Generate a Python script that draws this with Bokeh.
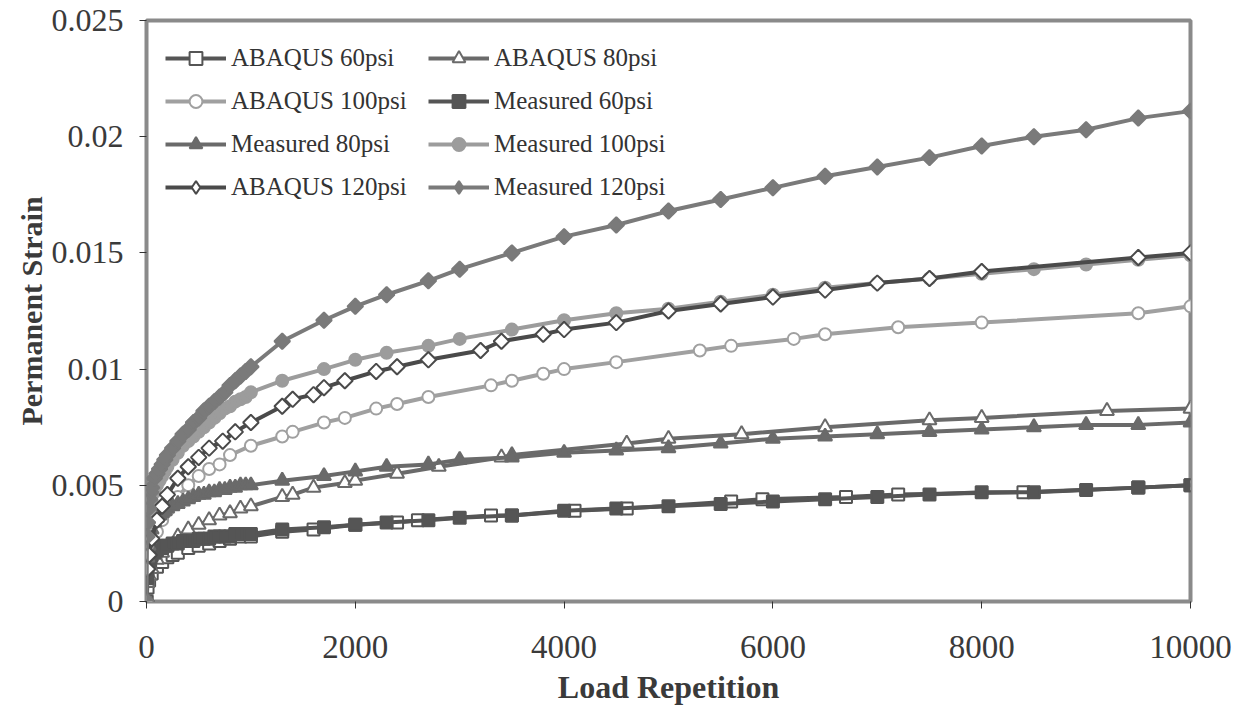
from bokeh.plotting import figure
from bokeh.models import Range1d, FixedTicker, Legend, LegendItem
from bokeh.embed import file_html
from bokeh.resources import INLINE

# ---------------- data ----------------
x_ticks = [0, 2000, 4000, 6000, 8000, 10000]
x_tick_labels = ["0", "2000", "4000", "6000", "8000", "10000"]
y_ticks = [0, 0.005, 0.01, 0.015, 0.02, 0.025]
y_tick_labels = ["0", "0.005", "0.01", "0.015", "0.02", "0.025"]

# measured series share the load repetitions
x_meas = [0, 5, 10, 20, 30, 40, 50, 75, 100, 125, 150, 175, 200, 250, 300, 350,
          400, 450, 500, 550, 600, 650, 700, 750, 800, 850, 900, 950, 1000,
          1300, 1700, 2000, 2300, 2700, 3000, 3500, 4000, 4500, 5000, 5500,
          6000, 6500, 7000, 7500, 8000, 8500, 9000, 9500, 10000]

meas_60 = [0, 0.0010, 0.0013, 0.0016, 0.0018, 0.0019, 0.0020, 0.0021, 0.0022,
           0.0023, 0.0023, 0.0024, 0.0024, 0.0025, 0.0025, 0.0026, 0.0026,
           0.0026, 0.0027, 0.0027, 0.0027, 0.0028, 0.0028, 0.0028, 0.0028,
           0.0029, 0.0029, 0.0029, 0.0029, 0.0031, 0.0032, 0.0033, 0.0034,
           0.0035, 0.0036, 0.0037, 0.0039, 0.0040, 0.0041, 0.0042, 0.0043,
           0.0044, 0.0045, 0.0046, 0.0047, 0.0047, 0.0048, 0.0049, 0.0050]

meas_80 = [0, 0.0015, 0.0019, 0.0024, 0.0027, 0.0029, 0.0031, 0.0034, 0.0036,
           0.0037, 0.0038, 0.0039, 0.0040, 0.0041, 0.0042, 0.0043, 0.0044,
           0.0045, 0.0046, 0.0046, 0.0047, 0.0047, 0.0048, 0.0048, 0.0049,
           0.0049, 0.0050, 0.0050, 0.0050, 0.0052, 0.0054, 0.0056, 0.0058,
           0.0059, 0.0061, 0.0062, 0.0064, 0.0065, 0.0066, 0.0068, 0.0070,
           0.0071, 0.0072, 0.0073, 0.0074, 0.0075, 0.0076, 0.0076, 0.0077]

meas_100 = [0, 0.0024, 0.0029, 0.0034, 0.0038, 0.0041, 0.0043, 0.0047, 0.0050,
            0.0052, 0.0054, 0.0056, 0.0058, 0.0061, 0.0064, 0.0067, 0.0069,
            0.0071, 0.0073, 0.0075, 0.0077, 0.0079, 0.0081, 0.0083, 0.0084,
            0.0086, 0.0087, 0.0088, 0.0090, 0.0095, 0.0100, 0.0104, 0.0107,
            0.0110, 0.0113, 0.0117, 0.0121, 0.0124, 0.0126, 0.0129, 0.0132,
            0.0135, 0.0137, 0.0139, 0.0141, 0.0143, 0.0145, 0.0147, 0.0149]

meas_120 = [0, 0.0028, 0.0034, 0.0040, 0.0044, 0.0047, 0.0049, 0.0053, 0.0055,
            0.0057, 0.0059, 0.0061, 0.0063, 0.0066, 0.0069, 0.0072, 0.0074,
            0.0077, 0.0079, 0.0082, 0.0084, 0.0086, 0.0088, 0.0090, 0.0093,
            0.0095, 0.0097, 0.0099, 0.0101, 0.0112, 0.0121, 0.0127, 0.0132,
            0.0138, 0.0143, 0.0150, 0.0157, 0.0162, 0.0168, 0.0173, 0.0178,
            0.0183, 0.0187, 0.0191, 0.0196, 0.0200, 0.0203, 0.0208, 0.0211]

x_abq_60 = [0, 10, 25, 50, 100, 150, 200, 250, 300, 400, 500, 600, 700, 800,
            900, 1000, 1300, 1600, 2000, 2400, 2600, 3300, 3500, 4100, 4600,
            5600, 5900, 6700, 7200, 8400, 9500, 10000]
abq_60 = [0, 0.0006, 0.0009, 0.0012, 0.0015, 0.0017, 0.0019, 0.0020, 0.0021,
          0.0023, 0.0024, 0.0025, 0.0026, 0.0027, 0.0028, 0.0028, 0.0030,
          0.0031, 0.0033, 0.0034, 0.0035, 0.0037, 0.0037, 0.0039, 0.0040,
          0.0043, 0.0044, 0.0045, 0.0046, 0.0047, 0.0049, 0.0050]

x_abq_80 = [0, 10, 25, 50, 100, 150, 200, 300, 400, 500, 600, 700, 800, 900,
            1000, 1300, 1400, 1600, 1900, 2000, 2400, 2800, 3400, 3500, 4600,
            5000, 5700, 6500, 7500, 8000, 9200, 10000]
abq_80 = [0, 0.0008, 0.0011, 0.0014, 0.0018, 0.0021, 0.0024, 0.0028, 0.0031,
          0.0033, 0.0035, 0.0037, 0.0038, 0.0040, 0.0041, 0.0045, 0.0046,
          0.0049, 0.0051, 0.0052, 0.0055, 0.0058, 0.0062, 0.0063, 0.0068,
          0.0070, 0.0072, 0.0075, 0.0078, 0.0079, 0.0082, 0.0083]

x_abq_100 = [0, 10, 25, 50, 100, 150, 200, 300, 400, 500, 600, 700, 800, 1000,
             1300, 1400, 1700, 1900, 2200, 2400, 2700, 3300, 3500, 3800, 4000,
             4500, 5300, 5600, 6200, 6500, 7200, 8000, 9500, 10000]
abq_100 = [0, 0.0012, 0.0017, 0.0023, 0.0030, 0.0035, 0.0039, 0.0045, 0.0050,
           0.0054, 0.0057, 0.0059, 0.0063, 0.0067, 0.0071, 0.0073, 0.0077,
           0.0079, 0.0083, 0.0085, 0.0088, 0.0093, 0.0095, 0.0098, 0.0100,
           0.0103, 0.0108, 0.0110, 0.0113, 0.0115, 0.0118, 0.0120, 0.0124,
           0.0127]

x_abq_120 = [0, 10, 25, 50, 100, 150, 200, 300, 400, 500, 600, 730, 850, 1000,
             1300, 1400, 1600, 1700, 1900, 2200, 2400, 2700, 3200, 3400, 3800,
             4000, 4500, 5000, 5500, 6000, 6500, 7000, 7500, 8000, 9500, 10000]
abq_120 = [0, 0.0014, 0.0020, 0.0027, 0.0035, 0.0041, 0.0046, 0.0053, 0.0058,
           0.0062, 0.0066, 0.0069, 0.0073, 0.0077, 0.0084, 0.0087, 0.0089,
           0.0092, 0.0095, 0.0099, 0.0101, 0.0104, 0.0108, 0.0112, 0.0115,
           0.0117, 0.0120, 0.0125, 0.0128, 0.0131, 0.0134, 0.0137, 0.0139,
           0.0142, 0.0148, 0.0150]

# (label, x, y, colour, marker, filled) in Excel series order
series = [
    ("ABAQUS 60psi", x_abq_60, abq_60, "#555555", "square", False),
    ("ABAQUS 80psi", x_abq_80, abq_80, "#6a6a6a", "triangle", False),
    ("ABAQUS 100psi", x_abq_100, abq_100, "#a0a0a0", "circle", False),
    ("Measured 60psi", x_meas, meas_60, "#555555", "square", True),
    ("Measured 80psi", x_meas, meas_80, "#6a6a6a", "triangle", True),
    ("Measured 100psi", x_meas, meas_100, "#9c9c9c", "circle", True),
    ("ABAQUS 120psi", x_abq_120, abq_120, "#4a4a4a", "diamond", False),
    ("Measured 120psi", x_meas, meas_120, "#7a7a7a", "diamond", True),
]

# ---------------- figure ----------------
SERIF = "Liberation Serif"
p = figure(width=1242, height=707, output_backend="svg", toolbar_location=None,
           x_range=Range1d(0, 10000), y_range=Range1d(0, 0.025),
           min_border_left=146, min_border_right=52,
           min_border_top=20, min_border_bottom=106)
p.grid.visible = False
p.background_fill_color = "white"
p.border_fill_color = "white"
p.outline_line_color = "#8a8a8a"
p.outline_line_width = 4

for ax in (p.xaxis[0], p.yaxis[0]):
    ax.axis_line_color = None
    ax.major_tick_out = 7
    ax.major_tick_in = 0
    ax.major_tick_line_color = "#333333"
    ax.minor_tick_line_color = None
    ax.major_label_text_font = SERIF
    ax.major_label_text_color = "#3a3a3a"
    ax.axis_label_text_font = SERIF
    ax.axis_label_text_font_style = "bold"
    ax.axis_label_text_color = "#3a3a3a"

p.xaxis.ticker = FixedTicker(ticks=x_ticks)
p.xaxis.major_label_overrides = dict(zip(x_ticks, x_tick_labels))
p.yaxis.ticker = FixedTicker(ticks=y_ticks)
p.yaxis.major_label_overrides = dict(zip(y_ticks, y_tick_labels))

p.xaxis.major_label_text_font_size = "33px"
p.yaxis.major_label_text_font_size = "32px"

p.xaxis.axis_label = "Load Repetition"
p.xaxis.axis_label_text_font_size = "32px"
p.xaxis.major_label_standoff = 27
p.xaxis.axis_label_standoff = 8
p.yaxis.axis_label = "Permanent Strain"
p.yaxis.axis_label_text_font_size = "30px"
p.yaxis.major_label_standoff = 16
p.yaxis.axis_label_standoff = 1

NAN = float("nan")
items = {}
for label, xs, ys, col, mk, filled in series:
    lr = p.line(xs, ys, line_color=col, line_width=4)
    fill = col if filled else "white"
    kw = dict(size=12, line_color=col, line_width=2, fill_color=fill)
    if mk == "diamond":
        kw.update(marker="square", angle=0.785398, size=11)
    elif mk == "triangle":
        kw.update(marker="triangle", size=14)
    else:
        kw.update(marker=mk)
    sr = p.scatter(xs, ys, **kw)
    if mk == "diamond":
        # legend-only glyph (the legend ignores marker rotation); no drawn point
        sr = p.scatter(x=[NAN], y=[NAN], marker="diamond", line_color=col,
                       line_width=2, fill_color=fill)
    items[label] = LegendItem(label=label, renderers=[lr, sr])

col1 = ["ABAQUS 60psi", "ABAQUS 100psi", "Measured 80psi", "ABAQUS 120psi"]
col2 = ["ABAQUS 80psi", "Measured 60psi", "Measured 100psi", "Measured 120psi"]

for names, xoff in ((col1, 19), (col2, 282)):
    leg = Legend(items=[items[n] for n in names], location=(xoff, 398),
                 orientation="vertical")
    leg.glyph_width = 61
    leg.glyph_height = 32
    leg.label_height = 32
    leg.spacing = 11
    leg.padding = 0
    leg.margin = 0
    leg.label_standoff = 5
    leg.border_line_color = None
    leg.background_fill_alpha = 0
    leg.label_text_font = SERIF
    leg.label_text_font_size = "25px"
    leg.label_text_color = "#333333"
    p.add_layout(leg)

open("out.html", "w").write(file_html(p, INLINE))
